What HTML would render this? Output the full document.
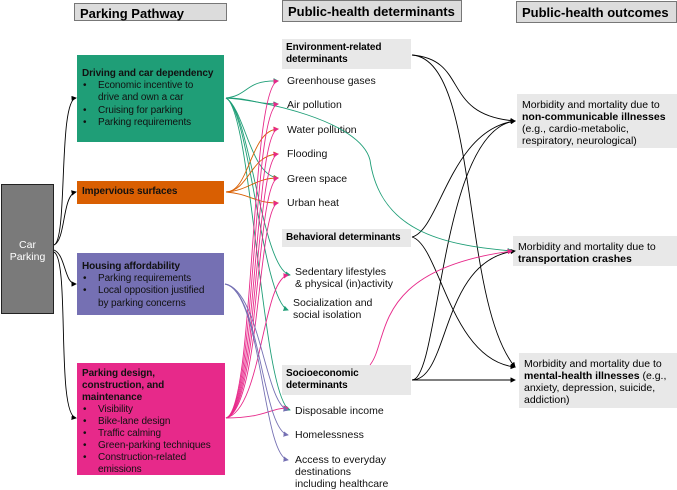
<!DOCTYPE html>
<html><head><style>
body{margin:0;width:677px;height:490px;position:relative;font-family:"Liberation Sans",Arial,sans-serif;background:#fff;overflow:hidden}
.a{position:absolute;box-sizing:border-box}
.h{background:#dcdcdc;border:1px solid #777;font-weight:bold;font-size:13px;padding:2px 5px;line-height:15px}
.box{color:#111;font-size:10px;line-height:12.2px;padding:4px 5px;letter-spacing:-0.1px}
.box b{font-weight:bold}
ul{margin:0;padding:0;list-style:none}
li{position:relative;padding-left:16px}
li:before{content:"•";position:absolute;left:1px}
.g{background:#e8e8e8;font-size:10px;font-weight:bold;line-height:12px;padding:3px 4px;letter-spacing:-0.1px}
.t{font-size:10.5px;line-height:12px;color:#111}
.o{background:#e8e8e8;font-size:10.5px;line-height:12px;padding:5px 5px}
</style></head><body>
<div class="a h" style="left:74px;top:3px;width:153px;height:18px">Parking Pathway</div>
<div class="a h" style="left:282px;top:0;width:180px;height:22px;padding-top:3px">Public-health determinants</div>
<div class="a h" style="left:516px;top:1px;width:161px;height:22px;padding-top:3px">Public-health outcomes</div>

<div class="a" style="left:1px;top:184px;width:53px;height:130px;background:#7a7a7a;border:1px solid #222;color:#fff;font-size:10.5px;text-align:center;padding-top:54px;line-height:12px">Car<br>Parking</div>

<div class="a box" style="left:77px;top:55px;width:147px;height:87px;background:#1f9e77;padding-top:13px"><b>Driving and car dependency</b><ul><li>Economic incentive to<br>drive and own a car</li><li>Cruising for parking</li><li>Parking requirements</li></ul></div>
<div class="a box" style="left:77px;top:181px;width:147px;height:23px;background:#d95f02;padding-top:5px"><b>Impervious surfaces</b></div>
<div class="a box" style="left:77px;top:253px;width:147px;height:62px;background:#7570b3;padding-top:8px"><b>Housing affordability</b><ul><li>Parking requirements</li><li>Local opposition justified<br>by parking concerns</li></ul></div>
<div class="a box" style="left:77px;top:363px;width:148px;height:112px;background:#e7298a;padding-top:5px;line-height:12px"><b>Parking design,<br>construction, and<br>maintenance</b><ul><li>Visibility</li><li>Bike-lane design</li><li>Traffic calming</li><li>Green-parking techniques</li><li>Construction-related<br>emissions</li></ul></div>

<div class="a g" style="left:282px;top:39px;width:129px;height:30px">Environment-related determinants</div>
<div class="a g" style="left:282px;top:229px;width:129px;height:18px">Behavioral determinants</div>
<div class="a g" style="left:282px;top:365px;width:129px;height:30px">Socioeconomic determinants</div>

<div class="a t" style="left:287px;top:75px">Greenhouse gases</div>
<div class="a t" style="left:287px;top:99px">Air pollution</div>
<div class="a t" style="left:287px;top:124px">Water pollution</div>
<div class="a t" style="left:287px;top:148px">Flooding</div>
<div class="a t" style="left:287px;top:173px">Green space</div>
<div class="a t" style="left:287px;top:197px">Urban heat</div>
<div class="a t" style="left:295px;top:266px">Sedentary lifestyles<br>&amp; physical (in)activity</div>
<div class="a t" style="left:293px;top:297px">Socialization and<br>social isolation</div>
<div class="a t" style="left:295px;top:405px">Disposable income</div>
<div class="a t" style="left:295px;top:429px">Homelessness</div>
<div class="a t" style="left:295px;top:454px">Access to everyday<br>destinations<br>including healthcare</div>

<div class="a o" style="left:517px;top:94px;width:160px;height:54px">Morbidity and mortality due to<br><b>non-communicable illnesses</b><br>(e.g., cardio-metabolic,<br>respiratory, neurological)</div>
<div class="a o" style="left:513px;top:236px;width:164px;height:30px">Morbidity and mortality due to<br><b>transportation crashes</b></div>
<div class="a o" style="left:519px;top:353px;width:158px;height:55px">Morbidity and mortality due to<br><b>mental-health illnesses</b> (e.g.,<br>anxiety, depression, suicide,<br>addiction)</div>

<svg class="a" style="left:0;top:0" width="677" height="490" viewBox="0 0 677 490" fill="none" stroke-width="0.9">
<defs>
<marker id="k" markerWidth="6" markerHeight="6" refX="5" refY="3" orient="auto"><path d="M0,0L6,3L0,6z" fill="#000"/></marker>
<marker id="gm" markerWidth="6" markerHeight="6" refX="5" refY="3" orient="auto"><path d="M0,0L6,3L0,6z" fill="#1f9e77"/></marker>
<marker id="om" markerWidth="6" markerHeight="6" refX="5" refY="3" orient="auto"><path d="M0,0L6,3L0,6z" fill="#d95f02"/></marker>
<marker id="pm" markerWidth="6" markerHeight="6" refX="5" refY="3" orient="auto"><path d="M0,0L6,3L0,6z" fill="#e7298a"/></marker>
<marker id="vm" markerWidth="6" markerHeight="6" refX="5" refY="3" orient="auto"><path d="M0,0L6,3L0,6z" fill="#7570b3"/></marker>
</defs>
<g stroke="#000" marker-end="url(#k)">
<path d="M54,245C68,240 58,100 76,98"/>
<path d="M54,245C66,240 62,195 76,192"/>
<path d="M54,250C66,255 64,284 76,284"/>
<path d="M54,252C70,260 56,415 76,418"/>
<path d="M412,55C470,60 440,115 515,121"/>
<path d="M412,55C480,60 460,300 515,367"/>
<path d="M412,237C440,230 450,130 515,121"/>
<path d="M412,237C440,245 450,360 515,367"/>
<path d="M412,380C440,380 440,130 515,121"/>
<path d="M412,380C450,380 440,260 515,251"/>
<path d="M412,380L515,380"/>
</g>
<g stroke="#1f9e77" marker-end="url(#gm)">
<path d="M226,98C250,95 245,80 278,81"/>
<path d="M226,98C250,98 255,104 278,104"/>
<path d="M226,98C260,100 360,120 370,160C380,230 440,245 512,251"/>
<path d="M226,98C245,110 250,175 278,178"/>
<path d="M226,98C250,110 262,270 290,275"/>
<path d="M226,98C250,110 262,300 288,310"/>
<path d="M226,98C252,110 262,400 290,410"/>
</g>
<g stroke="#d95f02" marker-end="url(#om)">
<path d="M226,192C250,192 250,130 278,129"/>
<path d="M226,192C250,190 250,155 278,154"/>
<path d="M226,192C250,190 255,178 278,178"/>
<path d="M226,192C250,194 255,203 278,203"/>
</g>
<g stroke="#e7298a" marker-end="url(#pm)">
<path d="M226,418C255,410 250,85 278,81"/>
<path d="M226,418C256,410 252,108 278,104"/>
<path d="M226,418C257,410 254,132 278,129"/>
<path d="M226,418C258,410 255,158 278,154"/>
<path d="M226,418C259,410 256,182 278,178"/>
<path d="M226,418C260,410 258,206 278,203"/>
<path d="M226,418C262,410 262,280 288,275"/>
<path d="M226,418C265,418 270,408 288,408"/>
<path d="M370,365C390,340 370,270 512,251"/>
</g>
<g stroke="#7570b3" marker-end="url(#vm)">
<path d="M225,284C260,290 265,405 288,410"/>
<path d="M225,284C260,290 262,430 288,435"/>
<path d="M225,284C262,290 262,455 288,460"/>
</g>
</svg>
</body></html>
